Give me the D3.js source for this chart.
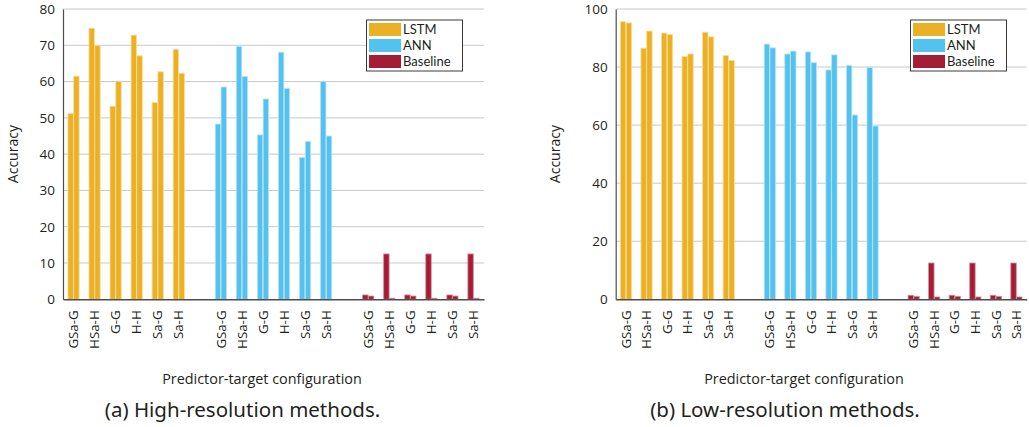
<!DOCTYPE html>
<html>
<head>
<meta charset="utf-8">
<script src="https://cdn.jsdelivr.net/npm/d3@7"></script>
<style>
  body { margin: 0; background: #fff; }
  text { font-family: "Open Sans", sans-serif; fill: #231f20; }
  .caption { font-family: "Noto Sans", sans-serif; }
  .legend text { font-family: Lato, sans-serif; }
</style>
</head>
<body>
<div id="chart"></div>
<script>
// predictor-target configurations, repeated for each method group
const configs = ["GSa-G", "HSa-H", "G-G", "H-H", "Sa-G", "Sa-H"];
const methods = ["LSTM", "ANN", "Baseline"];
const colors = { LSTM: "#ecb024", ANN: "#55c1ee", Baseline: "#a51c36" };
const edge = { LSTM: "#f7dc98", ANN: "#b5e4f8", Baseline: "#d68a98" };

// (a) high-resolution, two bars per configuration
const highLSTM = [[51.2, 61.5], [74.7, 69.9], [53.2, 60.1], [72.8, 67.1], [54.2, 62.7], [68.9, 62.3]];
const highANN = [[48.3, 58.5], [69.7, 61.4], [45.3, 55.2], [68.1, 58.1], [39.1, 43.5], [60.0, 45.0]];
const highBase = [[1.2, 0.9], [12.5, 0.3], [1.2, 0.9], [12.5, 0.3], [1.2, 0.9], [12.5, 0.3]];
const highTicks = [0, 10, 20, 30, 40, 50, 60, 70, 80];

// (b) low-resolution
const lowLSTM = [[95.6, 95.2], [86.5, 92.4], [91.7, 91.2], [83.6, 84.5], [92.0, 90.4], [84.0, 82.3]];
const lowANN = [[87.9, 86.6], [84.5, 85.5], [85.2, 81.5], [79.0, 84.2], [80.5, 63.5], [79.9, 59.7]];
const lowBase = [[1.4, 1.0], [12.5, 0.8], [1.4, 1.0], [12.5, 0.8], [1.4, 1.0], [12.5, 0.8]];
const lowTicks = [0, 20, 40, 60, 80, 100];

const W = 1029, H = 427;
const svg = d3.select("#chart").append("svg")
    .attr("width", W)
    .attr("height", H)
    .attr("viewBox", [0, 0, W, H]);

svg.append("rect").attr("width", W).attr("height", H).attr("fill", "#fff");

// slot keys: 6 configs per method with an empty slot between groups
const slots = [];
methods.forEach((m, i) => {
    if (i > 0) slots.push("gap" + i);
    configs.forEach(c => slots.push(m + "|" + c));
});

function drawPanel(opt) {
    const g = svg.append("g");

    const x = d3.scaleBand()
        .domain(slots)
        .range([opt.left, opt.right])
        .padding(0);

    const y = d3.scaleLinear()
        .domain([0, opt.max])
        .range([opt.bottom, opt.top]);

    const inner = d3.scaleBand()
        .domain([0, 1])
        .range([-5.6, 5.6])
        .paddingInner(0.06);

    // gridlines
    g.append("g")
        .selectAll("line")
        .data(opt.ticks.filter(d => d > 0))
        .join("line")
        .attr("x1", opt.left)
        .attr("x2", opt.right)
        .attr("y1", d => y(d))
        .attr("y2", d => y(d))
        .attr("stroke", "#c8c8c8")
        .attr("stroke-width", 1);

    // bars
    const rows = [];
    methods.forEach(m => {
        opt.data[m].forEach((pair, i) => {
            pair.forEach((v, j) => rows.push({ m: m, c: configs[i], j: j, v: v }));
        });
    });

    g.append("g")
        .selectAll("rect")
        .data(rows)
        .join("rect")
        .attr("x", d => x(d.m + "|" + d.c) + x.bandwidth() / 2 + inner(d.j))
        .attr("width", inner.bandwidth())
        .attr("y", d => y(d.v))
        .attr("height", d => y(0) - y(d.v))
        .attr("fill", d => colors[d.m])
        .attr("stroke", d => edge[d.m])
        .attr("stroke-width", 0.8);

    // y axis
    const yAxis = g.append("g")
        .attr("transform", `translate(${opt.left},0)`)
        .call(d3.axisLeft(y).tickValues(opt.ticks).tickSize(0).tickPadding(8));
    yAxis.select(".domain").attr("stroke", "#4d4d4d").attr("stroke-width", 1.2);
    yAxis.selectAll("text").attr("font-size", 13.5).attr("fill", "#231f20")
        .style("font-family", "'Open Sans', sans-serif");

    // x axis with rotated configuration labels
    const xAxis = g.append("g")
        .attr("transform", `translate(0,${opt.bottom})`)
        .call(d3.axisBottom(x)
            .tickValues(slots.filter(s => s.indexOf("|") > 0))
            .tickFormat(s => s.split("|")[1])
            .tickSize(0));
    xAxis.select(".domain").attr("stroke", "#4d4d4d").attr("stroke-width", 1.5);
    xAxis.selectAll("text")
        .attr("font-size", 13.3)
        .attr("fill", "#231f20")
        .style("font-family", "'Open Sans', sans-serif")
        .attr("text-anchor", "end")
        .attr("transform", "rotate(-90)")
        .attr("x", -11)
        .attr("y", 0)
        .attr("dy", "0.35em");

    // axis titles
    g.append("text")
        .attr("transform", `translate(${opt.ylabelX},${(opt.top + opt.bottom) / 2}) rotate(-90)`)
        .attr("text-anchor", "middle")
        .attr("dy", "0.35em")
        .attr("font-size", 14)
        .text("Accuracy");

    g.append("text")
        .attr("x", opt.xlabelX)
        .attr("y", 379)
        .attr("dy", "0.35em")
        .attr("text-anchor", "middle")
        .attr("font-size", 14.4)
        .text("Predictor-target configuration");

    g.append("text")
        .attr("class", "caption")
        .attr("x", opt.captionX)
        .attr("y", 410)
        .attr("dy", "0.35em")
        .attr("text-anchor", "middle")
        .attr("font-size", 20.5)
        .text(opt.caption);

    // legend
    const lg = g.append("g")
        .attr("class", "legend")
        .attr("transform", `translate(${opt.legendX},20)`);
    lg.append("rect")
        .attr("width", 96)
        .attr("height", 51)
        .attr("fill", "#fff")
        .attr("stroke", "#3a3a3a")
        .attr("stroke-width", 1);
    methods.forEach((m, i) => {
        lg.append("rect")
            .attr("x", 2.5)
            .attr("y", 3 + i * 16)
            .attr("width", 32)
            .attr("height", 13)
            .attr("fill", colors[m]);
        lg.append("text")
            .attr("x", 36.5)
            .attr("y", 9.5 + i * 16)
            .attr("dy", "0.35em")
            .attr("font-size", 13)
            .text(m);
    });
}

drawPanel({
    left: 63, right: 484, top: 9, bottom: 299.3, max: 80, ticks: highTicks,
    data: { LSTM: highLSTM, ANN: highANN, Baseline: highBase },
    ylabelX: 13, xlabelX: 262, captionX: 242.5, legendX: 366.5,
    caption: "(a) High-resolution methods."
});

drawPanel({
    left: 615.7, right: 1026.7, top: 9, bottom: 299.3, max: 100, ticks: lowTicks,
    data: { LSTM: lowLSTM, ANN: lowANN, Baseline: lowBase },
    ylabelX: 555, xlabelX: 804, captionX: 785, legendX: 910.5,
    caption: "(b) Low-resolution methods."
});
</script>
</body>
</html>
